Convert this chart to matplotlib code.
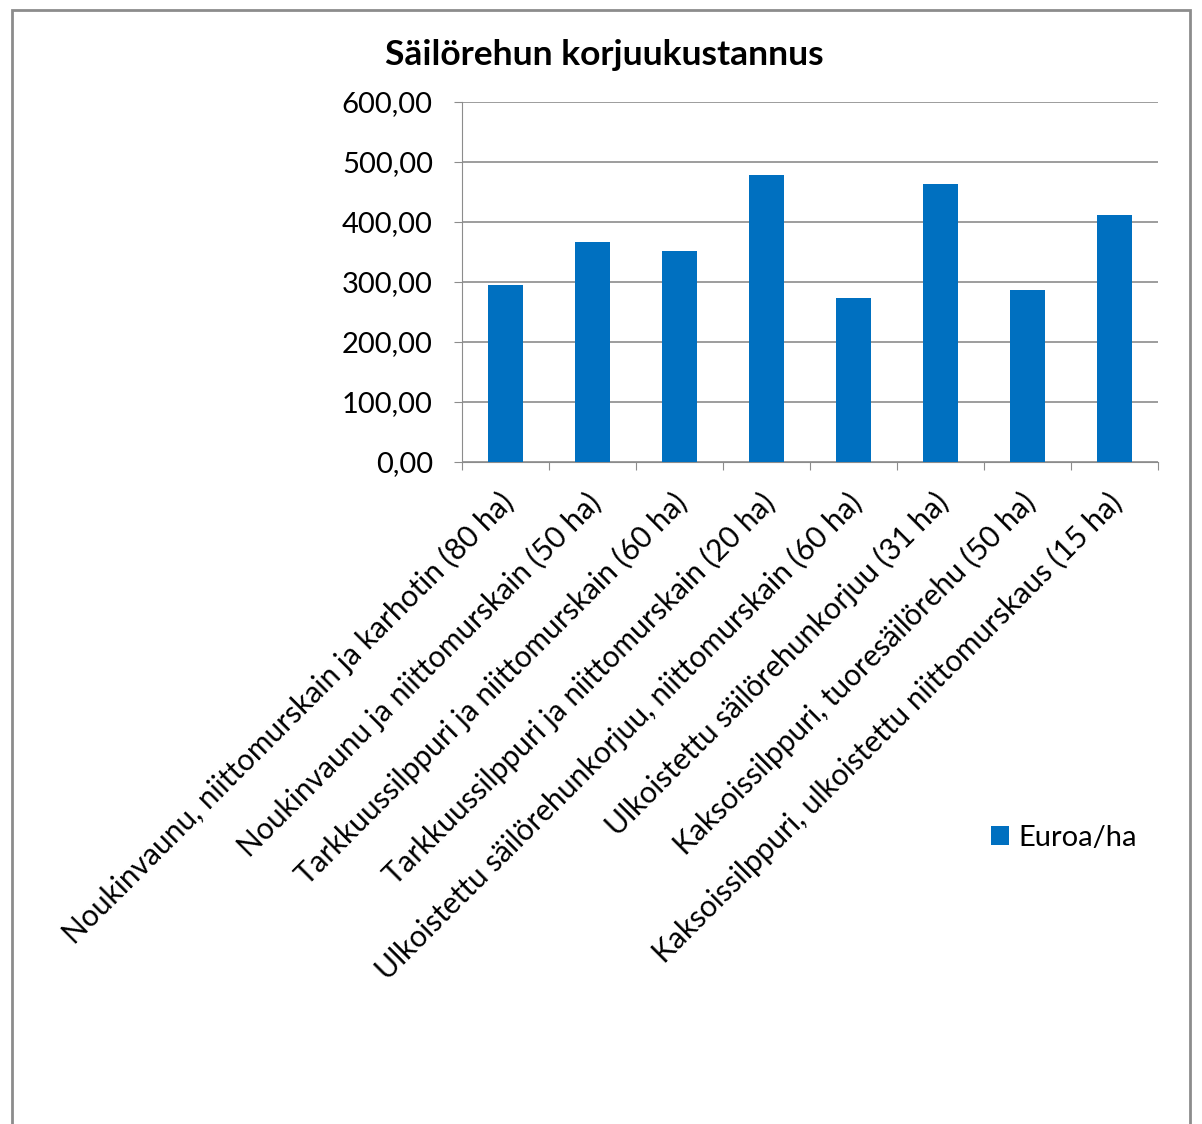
import matplotlib
matplotlib.use("Agg")
import matplotlib.pyplot as plt
import matplotlib.transforms as mtransforms
from matplotlib.patches import Rectangle
from matplotlib.ticker import FixedLocator

categories = [
    "Noukinvaunu, niittomurskain ja karhotin (80 ha)",
    "Noukinvaunu ja niittomurskain (50 ha)",
    "Tarkkuussilppuri ja niittomurskain (60 ha)",
    "Tarkkuussilppuri ja niittomurskain (20 ha)",
    "Ulkoistettu säilörehunkorjuu, niittomurskain (60 ha)",
    "Ulkoistettu säilörehunkorjuu (31 ha)",
    "Kaksoissilppuri, tuoresäilörehu (50 ha)",
    "Kaksoissilppuri, ulkoistettu niittomurskaus (15 ha)",
]
values = [295, 366, 351, 479, 274, 464, 287, 411]
yticks = [0, 100, 200, 300, 400, 500, 600]
ytick_labels = ["0,00", "100,00", "200,00", "300,00", "400,00", "500,00", "600,00"]
series_name = "Euroa/ha"
title = "Säilörehun korjuukustannus"

plt.rcParams['font.family'] = ['Lato', 'DejaVu Sans']

fig = plt.figure(figsize=(12.02, 11.24), dpi=100)
fig.patches.append(Rectangle((12/1202, -0.05), (1190-12)/1202, 1.05 - 10/1124,
                             transform=fig.transFigure, fill=False,
                             edgecolor='#8c8c8c', linewidth=2))

ax = fig.add_axes([462/1202, 1-462/1124, (1158-462)/1202, (462-102)/1124])
x = list(range(len(values)))
ax.bar(x, values, width=0.4, color='#0070c0', label=series_name, zorder=3)
ax.set_xlim(-0.5, len(values)-0.5)
ax.set_ylim(0, 600)
ax.set_yticks(yticks)
ax.set_yticklabels(ytick_labels, fontsize=21)
ax.grid(axis='y', color='#8c8c8c', linewidth=1.2, zorder=0)
for s in ['top', 'right']:
    ax.spines[s].set_visible(False)
ax.spines['left'].set_color('#8c8c8c')
ax.spines['bottom'].set_color('#8c8c8c')
ax.tick_params(axis='y', direction='out', length=6, color='#8c8c8c', pad=15)
ax.xaxis.set_major_locator(FixedLocator([i - 0.5 for i in range(len(values)+1)]))
ax.xaxis.set_major_formatter(plt.NullFormatter())
ax.tick_params(axis='x', which='major', direction='out', length=6, color='#8c8c8c')
ax.xaxis.set_minor_locator(FixedLocator(x))
ax.set_xticks(x, minor=True)
labels = ax.set_xticklabels(categories, minor=True, rotation=45, ha='right', va='top',
                            rotation_mode='anchor', fontsize=21.5)
ax.tick_params(axis='x', which='minor', length=0, pad=12)
offset = mtransforms.ScaledTranslation(-7/100, -9/100, fig.dpi_scale_trans)
for lab in ax.xaxis.get_minorticklabels():
    lab.set_transform(lab.get_transform() + offset)

fig.text(604/1202, 1-55/1124, title, ha='center', va='center', fontsize=25.5, fontweight='bold')

leg = fig.legend(loc='center left', bbox_to_anchor=(991/1202, 1-838/1124), frameon=False,
                 fontsize=21, handlelength=0.6, handleheight=0.6, handletextpad=0.35,
                 borderpad=0, borderaxespad=0)

fig.savefig("out.png", dpi=100)
